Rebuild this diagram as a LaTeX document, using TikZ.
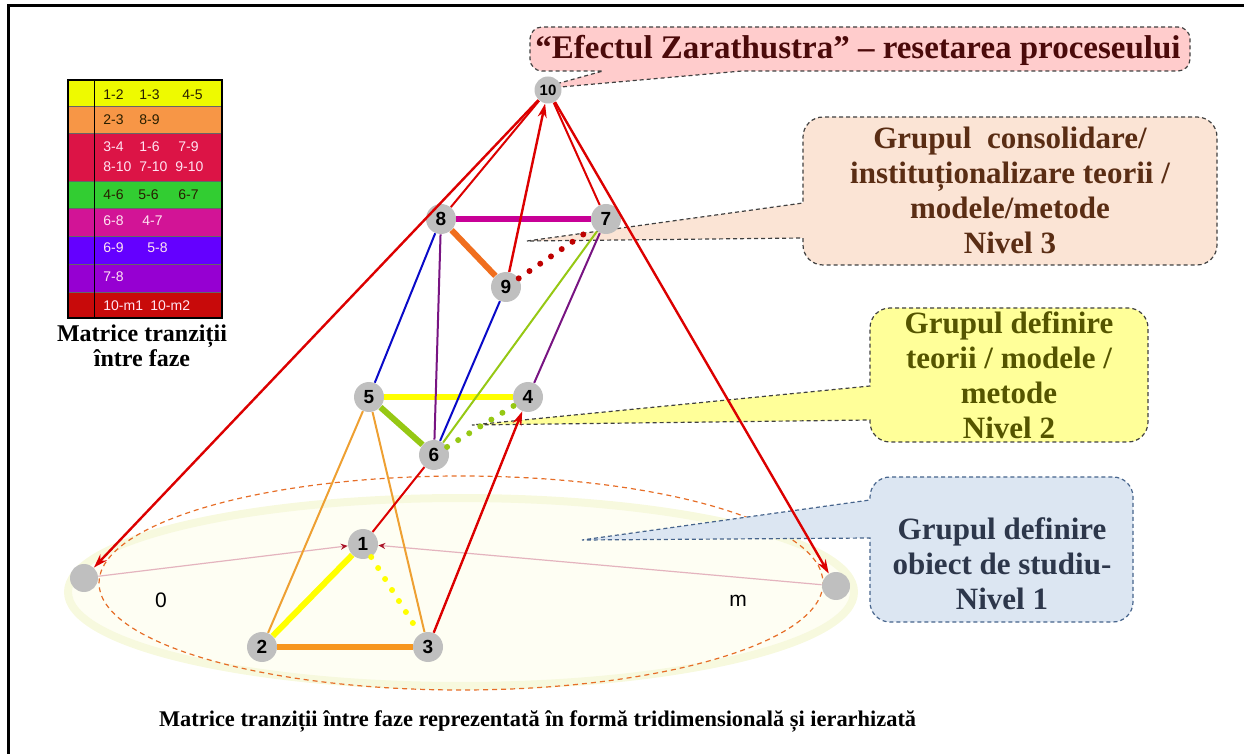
\documentclass[tikz,border=0pt]{standalone}
\usepackage{fontspec}
\setmainfont{Liberation Serif}
\setsansfont{Liberation Sans}
\usetikzlibrary{arrows.meta}

\newlength{\du}
\setlength{\du}{0.5pt}

\definecolor{nodegray}{RGB}{191,191,191}
\definecolor{linered}{RGB}{220,0,0}
\definecolor{edgeyellow}{RGB}{255,255,0}
\definecolor{edgeorange}{RGB}{247,150,30}
\definecolor{edgelightorange}{RGB}{238,160,50}
\definecolor{edgedarkorange}{RGB}{240,110,30}
\definecolor{edgegreen}{RGB}{150,200,20}
\definecolor{edgemagenta}{RGB}{200,0,150}
\definecolor{edgepurple}{RGB}{120,20,130}
\definecolor{edgeblue}{RGB}{10,10,200}
\definecolor{paleedge}{RGB}{228,180,190}
\definecolor{darkred}{RGB}{170,20,40}
\definecolor{dotred}{RGB}{190,0,0}
\definecolor{glowfill}{RGB}{254,254,243}
\definecolor{glowrim}{RGB}{247,249,222}
\definecolor{ringorange}{RGB}{230,110,40}
\definecolor{boxborder}{RGB}{64,64,64}
\definecolor{titlefill}{RGB}{255,204,204}
\definecolor{titletext}{RGB}{75,10,10}
\definecolor{peachfill}{RGB}{251,228,213}
\definecolor{peachtext}{RGB}{90,45,20}
\definecolor{lemonfill}{RGB}{255,255,153}
\definecolor{lemontext}{RGB}{85,85,0}
\definecolor{skyfill}{RGB}{220,230,242}
\definecolor{skyborder}{RGB}{70,100,140}
\definecolor{skytext}{RGB}{45,55,75}
\definecolor{leg1}{RGB}{238,250,0}
\definecolor{leg2}{RGB}{247,150,70}
\definecolor{leg3}{RGB}{220,20,70}
\definecolor{leg4}{RGB}{50,205,50}
\definecolor{leg5}{RGB}{210,20,150}
\definecolor{leg6}{RGB}{100,0,255}
\definecolor{leg7}{RGB}{150,0,210}
\definecolor{leg8}{RGB}{200,10,10}
\definecolor{legdark}{RGB}{40,30,0}
\definecolor{leglight}{RGB}{255,228,242}

\tikzset{
  vertex/.style={circle, fill=nodegray, inner sep=0pt, minimum size=15pt,
    font=\sffamily\bfseries\fontsize{9.5}{10}\selectfont},
  endvertex/.style={circle, fill=nodegray, inner sep=0pt, minimum size=14pt},
  thickedge/.style={line width=3pt},
  thinedge/.style={line width=1pt},
  dotedge/.style={line width=3pt, line cap=round, dash pattern=on 0pt off 6.5pt},
  redarrow/.style={line width=1.2pt, draw=linered, -{Stealth[length=7pt,width=4.5pt]}},
  paleline/.style={line width=0.6pt, draw=paleedge, -{Stealth[length=3.5pt,width=3pt,color=darkred]}},
  callout/.style={line width=0.6pt, dash pattern=on 2pt off 1.5pt},
  boxtext/.style={font=\bfseries\fontsize{15.5}{17.5}\selectfont, align=center},
  legtxt/.style={anchor=west, inner sep=0pt, font=\sffamily\fontsize{7}{8}\selectfont},
  numlabel/.style={font=\sffamily\fontsize{10.5}{11}\selectfont},
}

\begin{document}
\begin{tikzpicture}
\pgftransformxscale{1.000000}
\pgftransformyscale{-1.000000}
\useasboundingbox (0\du,0\du) rectangle (1244\du,754\du);
\draw[line width=1.5pt] (8\du,754\du) -- (8\du,6\du) -- (1244\du,6\du);

% plan nivel 1
\draw[line width=4pt, draw=glowrim, fill=glowfill] (461\du,592\du) ellipse [x radius=393\du, y radius=94\du];
\draw[line width=0.6pt, draw=ringorange, dash pattern=on 2.5pt off 2pt] (461\du,583\du) ellipse [x radius=362\du, y radius=107\du];

% callouts
\filldraw[callout, draw=boxborder, fill=titlefill]
  (700\du,27\du) [rounded corners=6pt] -- (530\du,27\du) -- (530\du,71\du) [sharp corners]
  -- (603\du,71\du) -- (538\du,89\du) -- (742\du,71\du) [rounded corners=6pt]
  -- (1190\du,71\du) -- (1190\du,27\du) -- cycle;
\filldraw[callout, draw=boxborder, fill=peachfill]
  (1010\du,117\du) [rounded corners=10pt] -- (803\du,117\du) [sharp corners] -- (803\du,203\du)
  -- (527\du,241\du) -- (803\du,238\du) [rounded corners=10pt]
  -- (803\du,265\du) -- (1217\du,265\du) -- (1217\du,117\du) -- cycle;
\filldraw[callout, draw=boxborder, fill=lemonfill]
  (1010\du,308\du) [rounded corners=10pt] -- (870\du,308\du) [sharp corners] -- (870\du,386\du)
  -- (472\du,425\du) -- (870\du,420\du) [rounded corners=10pt]
  -- (870\du,442\du) -- (1148\du,442\du) -- (1148\du,308\du) -- cycle;
\filldraw[callout, draw=skyborder, fill=skyfill]
  (1000\du,477\du) [rounded corners=10pt] -- (870\du,477\du) [sharp corners] -- (870\du,500\du)
  -- (582\du,540\du) -- (870\du,538\du) [rounded corners=10pt]
  -- (870\du,622\du) -- (1133\du,622\du) -- (1133\du,477\du) -- cycle;

\node[font=\bfseries\fontsize{16.5}{18}\selectfont, text=titletext] (titlu) at (858\du,50\du)
  {``Efectul Zarathustra'' -- resetarea proceseului};
\node[boxtext, text=peachtext] (nivel3) at (1010\du,190\du)
  {Grupul\ \ consolidare/\\institu\char"021Bionalizare teorii /\\modele/metode\\Nivel 3};
\node[boxtext, text=lemontext] (nivel2) at (1009\du,375\du)
  {Grupul definire\\teorii / modele /\\metode\\Nivel 2};
\node[boxtext, text=skytext] (nivel1) at (1002\du,564\du)
  {Grupul definire\\obiect de studiu-\\Nivel 1};

% faze
\node[vertex, minimum size=13.5pt, font=\sffamily\bfseries\fontsize{7.5}{8}\selectfont] (n10) at (548\du,90\du) {10};
\node[vertex] (n8) at (441\du,219\du) {8};
\node[vertex] (n7) at (606\du,219\du) {7};
\node[vertex] (n9) at (506\du,287\du) {9};
\node[vertex] (n5) at (369\du,397\du) {5};
\node[vertex] (n4) at (528\du,397\du) {4};
\node[vertex] (n6) at (434\du,455\du) {6};
\node[vertex] (n1) at (363\du,544\du) {1};
\node[vertex] (n2) at (262\du,647\du) {2};
\node[vertex] (n3) at (428\du,647\du) {3};
\node[endvertex] (m1) at (84\du,578\du) {};
\node[endvertex] (m2) at (836\du,586\du) {};
\node[numlabel] (lab0) at (161\du,600\du) {0};
\node[numlabel] (labm) at (738\du,601\du) {m};

% nivel 1
\draw[paleline] (m1) -- (n1);
\draw[paleline] (m2) -- (n1);
\draw[thickedge, draw=edgeyellow] (n1) -- (n2);
\draw[dotedge, draw=edgeyellow] (n1) -- (n3);
\draw[thickedge, draw=edgeorange] (n2) -- (n3);
\draw[thinedge, draw=edgelightorange] (n5) -- (n2);
\draw[thinedge, draw=edgelightorange] (n5) -- (n3);
\draw[thinedge, draw=linered] (n6) -- (n1);
\draw[redarrow] (n3) -- (n4);
% nivel 2
\draw[thickedge, draw=edgeyellow] (n5) -- (n4);
\draw[thickedge, draw=edgegreen] (n5) -- (n6);
\draw[dotedge, draw=edgegreen] (n6) -- (n4);
\draw[thinedge, draw=edgegreen] (n6) -- (n7);
\draw[thinedge, draw=edgepurple] (n6) -- (n8);
\draw[thinedge, draw=edgeblue] (n6) -- (n9);
\draw[thinedge, draw=edgeblue] (n5) -- (n8);
\draw[thinedge, draw=edgepurple] (n4) -- (n7);
% nivel 3
\draw[thickedge, draw=edgemagenta] (n8) -- (n7);
\draw[thickedge, draw=edgedarkorange] (n8) -- (n9);
\draw[dotedge, draw=dotred] (n9) -- (n7);
\draw[redarrow] (n9) -- (n10);
\draw[thinedge, draw=linered] (n8) -- (n10);
\draw[thinedge, draw=linered] (n7) -- (n10);
% resetare
\draw[redarrow] (n10) -- (m1);
\draw[redarrow] (n10) -- (m2);

% matrice tranzitii
\fill[leg1] (68\du,80\du) rectangle (222\du,106\du);
\fill[leg2] (68\du,106\du) rectangle (222\du,133\du);
\fill[leg3] (68\du,133\du) rectangle (222\du,181\du);
\fill[leg4] (68\du,181\du) rectangle (222\du,208\du);
\fill[leg5] (68\du,208\du) rectangle (222\du,236\du);
\fill[leg6] (68\du,236\du) rectangle (222\du,264\du);
\fill[leg7] (68\du,264\du) rectangle (222\du,292\du);
\fill[leg8] (68\du,292\du) rectangle (222\du,318\du);
\foreach \y in {106,133,181,208,236,264,292}
  \draw[line width=0.4pt, draw=black!60] (68\du,\y\du) -- (222\du,\y\du);
\draw[line width=0.5pt] (94\du,80\du) -- (94\du,318\du);
\draw[line width=1pt] (68\du,80\du) rectangle (222\du,318\du);

\node[legtxt, text=legdark] (row1) at (103\du,95\du) {\makebox[18pt][l]{1-2}\makebox[21.5pt][l]{1-3}4-5};
\node[legtxt, text=legdark] (row2) at (103\du,120\du) {\makebox[18pt][l]{2-3}8-9};
\node[legtxt, text=leglight] (row3a) at (103\du,147\du) {\makebox[18pt][l]{3-4}\makebox[19.5pt][l]{1-6}7-9};
\node[legtxt, text=leglight] (row3b) at (103\du,167\du) {\makebox[18pt][l]{8-10}\makebox[18pt][l]{7-10}9-10};
\node[legtxt, text=legdark] (row4) at (103\du,195\du) {\makebox[17.5pt][l]{4-6}\makebox[20pt][l]{5-6}6-7};
\node[legtxt, text=leglight] (row5) at (103\du,221\du) {\makebox[19.5pt][l]{6-8}4-7};
\node[legtxt, text=leglight] (row6) at (103\du,248\du) {\makebox[22pt][l]{6-9}5-8};
\node[legtxt, text=leglight] (row7) at (103\du,277\du) {7-8};
\node[legtxt, text=leglight] (row8) at (103\du,306\du) {\makebox[23.5pt][l]{10-m1}10-m2};
\node[font=\bfseries\fontsize{12}{12.5}\selectfont, align=center] (legcap) at (142\du,346\du)
  {Matrice tranzi\char"021Bii\\între faze};

\node[font=\bfseries\fontsize{11.2}{12}\selectfont, anchor=west] (caption) at (152\du,721\du)
  {Matrice tranzi\char"021Bii între faze reprezentată în formă tridimensională \char"0219i ierarhizată};
\end{tikzpicture}
\end{document}
